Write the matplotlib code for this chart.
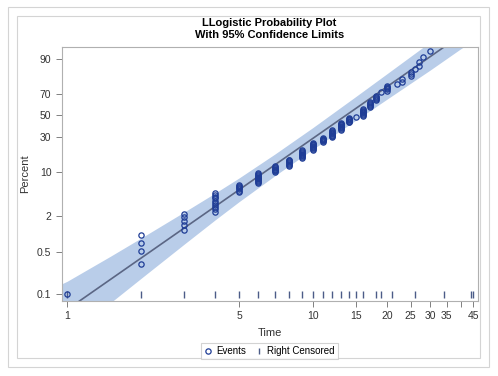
import matplotlib
matplotlib.use('Agg')
import matplotlib.pyplot as plt
from matplotlib.lines import Line2D
from matplotlib.patches import Rectangle
from matplotlib.ticker import FixedLocator, FixedFormatter, NullLocator

plt.rcParams['font.family'] = ['Liberation Sans', 'DejaVu Sans']

# Event times and their plotting positions (percent)
event_time = [1,
              2, 2, 2, 2,
              3, 3, 3, 3, 3,
              4, 4, 4, 4, 4, 4, 4, 4, 4, 4,
              5, 5, 5, 5, 5, 5, 5,
              6, 6, 6, 6, 6, 6, 6, 6, 6, 6, 6, 6,
              7, 7, 7, 7, 7, 7, 7, 7,
              8, 8, 8, 8, 8, 8, 8, 8,
              9, 9, 9, 9, 9, 9, 9, 9, 9, 9,
              10, 10, 10, 10, 10, 10, 10, 10, 10, 10,
              11, 11, 11, 11, 11, 11, 11,
              12, 12, 12, 12, 12, 12, 12, 12, 12, 12,
              13, 13, 13, 13, 13, 13, 13, 13, 13, 13,
              14, 14, 14, 14, 14, 14, 14,
              15,
              16, 16, 16, 16, 16, 16, 16, 16, 16,
              17, 17, 17, 17, 17, 17,
              18, 18, 18, 18, 18,
              19,
              20, 20, 20, 20, 20,
              22,
              23, 23,
              25, 25, 25,
              26,
              27, 27,
              28,
              30]
event_pct = [0.10,
             0.31, 0.52, 0.72, 0.96,
             1.19, 1.41, 1.66, 1.89, 2.14,
             2.32, 2.55, 2.80, 3.05, 3.30, 3.55, 3.85, 4.10, 4.40, 4.67,
             4.90, 5.15, 5.40, 5.65, 5.90, 6.10, 6.34,
             6.74, 7.00, 7.25, 7.50, 7.75, 8.00, 8.25, 8.50, 8.75, 9.00, 9.25, 9.54,
             10.0, 10.3, 10.6, 10.9, 11.2, 11.5, 11.8, 12.2,
             12.5, 12.9, 13.3, 13.7, 14.1, 14.5, 14.9, 15.2,
             16.0, 16.5, 17.0, 17.5, 18.0, 18.5, 19.0, 19.5, 20.0, 20.7,
             21.0, 21.5, 22.0, 22.5, 23.0, 23.5, 24.0, 24.5, 25.0, 25.8,
             26.5, 27.0, 27.5, 28.0, 28.5, 29.0, 29.7,
             30.2, 30.8, 31.4, 32.0, 32.6, 33.2, 33.8, 34.4, 35.0, 36.0,
             36.6, 37.3, 38.0, 38.7, 39.4, 40.1, 40.8, 41.5, 42.2, 42.7,
             43.4, 44.1, 44.8, 45.5, 46.2, 46.9, 47.9,
             48.8,
             49.8, 50.6, 51.4, 52.2, 53.0, 53.8, 54.6, 55.4, 56.6,
             58.5, 59.3, 60.1, 60.9, 61.7, 62.8,
             64.6, 65.5, 66.4, 67.3, 68.1,
             71.2,
             72.4, 73.3, 74.1, 75.0, 75.9,
             77.3,
             78.4, 80.1,
             81.9, 83.2, 84.5,
             85.6,
             87.2, 88.8,
             90.7,
             92.3]

# Right censored times
cens_time = [1, 2, 3, 4, 5, 6, 7, 8, 9, 10, 11, 12, 13, 14, 15, 16, 18, 19,
             21, 26, 34, 44, 45]

# Fitted line (two ends) and 95% confidence band
fit_time = [0.9, 50]
fit_pct = [0.040, 97.7]
band_time = [0.9, 1, 1.5, 2, 3, 4, 5, 7, 10, 15, 20, 30, 40, 50]
band_upper = [0.132, 0.162, 0.426, 0.86, 2.33, 4.71, 8.13, 18.3, 38.5,
              67.8, 83.4, 94.5, 97.6, 98.8]
band_lower = [0.012, 0.018, 0.0705, 0.182, 0.684, 1.72, 3.41, 8.83, 21.3,
              45.6, 65.2, 85.3, 93.0, 96.0]

y_ticks = [0.1, 0.5, 2, 10, 30, 50, 70, 90]
x_ticks = [1, 5, 10, 15, 20, 25, 30, 35, 40, 45]
x_labels = ['1', '5', '10', '15', '20', '25', '30', '35', '', '45']

fig = plt.figure(figsize=(4.98, 3.76), dpi=100)

# outer frames
fig.patches.append(Rectangle((8 / 498, 1 - 367 / 376), 481 / 498, 360 / 376,
                             transform=fig.transFigure, fill=False,
                             edgecolor='#d4d4d4', lw=0.8))
fig.patches.append(Rectangle((17 / 498, 1 - 358 / 376), 463 / 498, 342 / 376,
                             transform=fig.transFigure, fill=False,
                             edgecolor='#d4d4d4', lw=0.8))

ax = fig.add_axes([0.124, 0.200, 0.836, 0.676])
ax.set_xscale('log')
ax.set_yscale('logit')

blue = '#1f3d96'
ax.fill_between(band_time, [v / 100 for v in band_lower],
                [v / 100 for v in band_upper], color='#b9cde9', lw=0, zorder=1)
ax.plot(fit_time, [v / 100 for v in fit_pct], color='#5b6684', lw=1.2, zorder=2)
ax.plot(event_time, [v / 100 for v in event_pct], 'o', mfc='none', mec=blue,
        ms=3.8, mew=0.9, zorder=4)
ax.vlines(cens_time, 0.01, 0.038, transform=ax.get_xaxis_transform(),
          color='#4c5c88', lw=1, zorder=3)

ax.set_xlim(0.95, 47)
ax.set_ylim(0.00076, 0.935)

ax.xaxis.set_major_locator(FixedLocator(x_ticks))
ax.xaxis.set_major_formatter(FixedFormatter(x_labels))
ax.xaxis.set_minor_locator(NullLocator())
ax.yaxis.set_major_locator(FixedLocator([v / 100 for v in y_ticks]))
ax.yaxis.set_major_formatter(FixedFormatter([str(v) for v in y_ticks]))
ax.yaxis.set_minor_locator(NullLocator())
ax.tick_params(labelsize=7.5, length=4, width=0.7, color='#808080',
               labelcolor='#333333')
for s in ax.spines.values():
    s.set_color('#b0b0b0')
    s.set_linewidth(0.8)

ax.set_xlabel('Time', fontsize=8, color='#333333', labelpad=5)
ax.set_ylabel('Percent', fontsize=8, color='#333333', labelpad=5)

fig.text(0.541, 1 - 23 / 376, 'LLogistic Probability Plot', ha='center',
         va='center', fontsize=8, fontweight='bold')
fig.text(0.541, 1 - 35 / 376, 'With 95% Confidence Limits', ha='center',
         va='center', fontsize=8, fontweight='bold')

handles = [Line2D([], [], ls='none', marker='o', mfc='none', mec=blue,
                  ms=3.8, mew=0.9),
           Line2D([], [], ls='none', marker='|', color='#4c5c88', ms=5, mew=1)]
leg = fig.legend(handles, ['Events', 'Right Censored'], loc='center',
                 bbox_to_anchor=(0.541, 1 - 351 / 376), ncol=2, fontsize=7,
                 frameon=True, fancybox=False, handlelength=0.8,
                 handletextpad=0.4, columnspacing=1.0, borderpad=0.3)
leg.get_frame().set_edgecolor('#c8c8c8')
leg.get_frame().set_linewidth(0.8)

fig.savefig('out.png', dpi=100)
